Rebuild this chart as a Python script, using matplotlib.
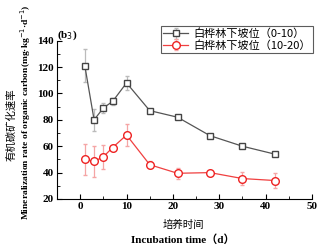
import matplotlib
matplotlib.use("Agg")
import matplotlib.pyplot as plt
from matplotlib.ticker import MultipleLocator

days = [1, 3, 5, 7, 10, 15, 21, 28, 35, 42]
rate_0_10 = [121, 80, 89, 94, 108, 87, 82, 68, 60, 54]
err_0_10 = [12.5, 8.5, 3.5, 2.5, 5, 1, 1, 1, 1.5, 1]
rate_10_20 = [50, 48.5, 52, 59, 68.5, 46, 39.5, 40, 35.5, 34]
err_10_20 = [11.5, 12, 9, 1.5, 8.5, 2.5, 4, 1.5, 5, 6]
labels = ["白桦林下坡位（0-10）", "白桦林下坡位（10-20）"]

cjk = ["Noto Sans CJK SC", "DejaVu Sans"]
serif = ["Liberation Serif", "DejaVu Serif"]

fig = plt.figure(figsize=(3.22, 2.5), dpi=100)
ax = fig.add_axes([57/322, 1-199/250, (312-57)/322, (199-40.7)/250])

ax.errorbar(days, rate_0_10, yerr=err_0_10, color="#555555", ecolor="#bbbbbb",
            elinewidth=0.9, capsize=1.5, capthick=0.8, lw=0.9, marker="s", ms=5,
            mfc="white", mec="#444444", mew=1.0, label=labels[0])
ax.errorbar(days, rate_10_20, yerr=err_10_20, color="#f04040", ecolor="#f5a5a5",
            elinewidth=0.9, capsize=1.5, capthick=0.8, lw=0.9, marker="o", ms=5.5,
            mfc="white", mec="#ee2222", mew=1.0, label=labels[1])

ax.set_xlim(-5, 50)
ax.set_ylim(20, 140)
ax.xaxis.set_major_locator(MultipleLocator(10))
ax.yaxis.set_major_locator(MultipleLocator(20))
ax.yaxis.set_minor_locator(MultipleLocator(10))
ax.xaxis.set_minor_locator(MultipleLocator(5))
ax.tick_params(which="both", direction="in", labelsize=8, pad=2.5)
ax.tick_params(which="major", length=3.5)
ax.tick_params(which="minor", length=2)
for s in ["top", "right"]:
    ax.spines[s].set_visible(False)
for lab in ax.get_xticklabels() + ax.get_yticklabels():
    lab.set_family(serif)
    lab.set_fontweight("bold")

fig.text(183/322, 1-225/250, "培养时间", family=cjk, fontsize=7.5, ha="center", va="center")
fig.text(183/322, 1-240/250, "Incubation time（d）", family=serif + cjk, fontsize=8,
         fontweight="bold", ha="center", va="center")
fig.text(11/322, 1-125/250, "有机碳矿化速率", family=cjk, fontsize=7.5, rotation=90,
         ha="center", va="center")
fig.text(26/322, 1-112/250, "Mineralization rate of organic carbon(mg·kg$^{-1}$·d$^{-1}$)",
         family=serif, fontsize=6.8, fontweight="bold", rotation=90, ha="center", va="center")
fig.text(57/322, 1-35/250, "(b$_3$)", family=serif, fontsize=8, fontweight="bold",
         ha="left", va="center")

leg = fig.legend(loc="upper right", bbox_to_anchor=(313/322, 1-26/250), prop={"family": cjk, "size": 8},
                 frameon=True, fancybox=False, edgecolor="#333333", handlelength=2.2,
                 borderpad=0.2, labelspacing=0.1, handletextpad=0.5, borderaxespad=0)
leg.get_frame().set_linewidth(0.8)

fig.savefig("out.png", dpi=100)
